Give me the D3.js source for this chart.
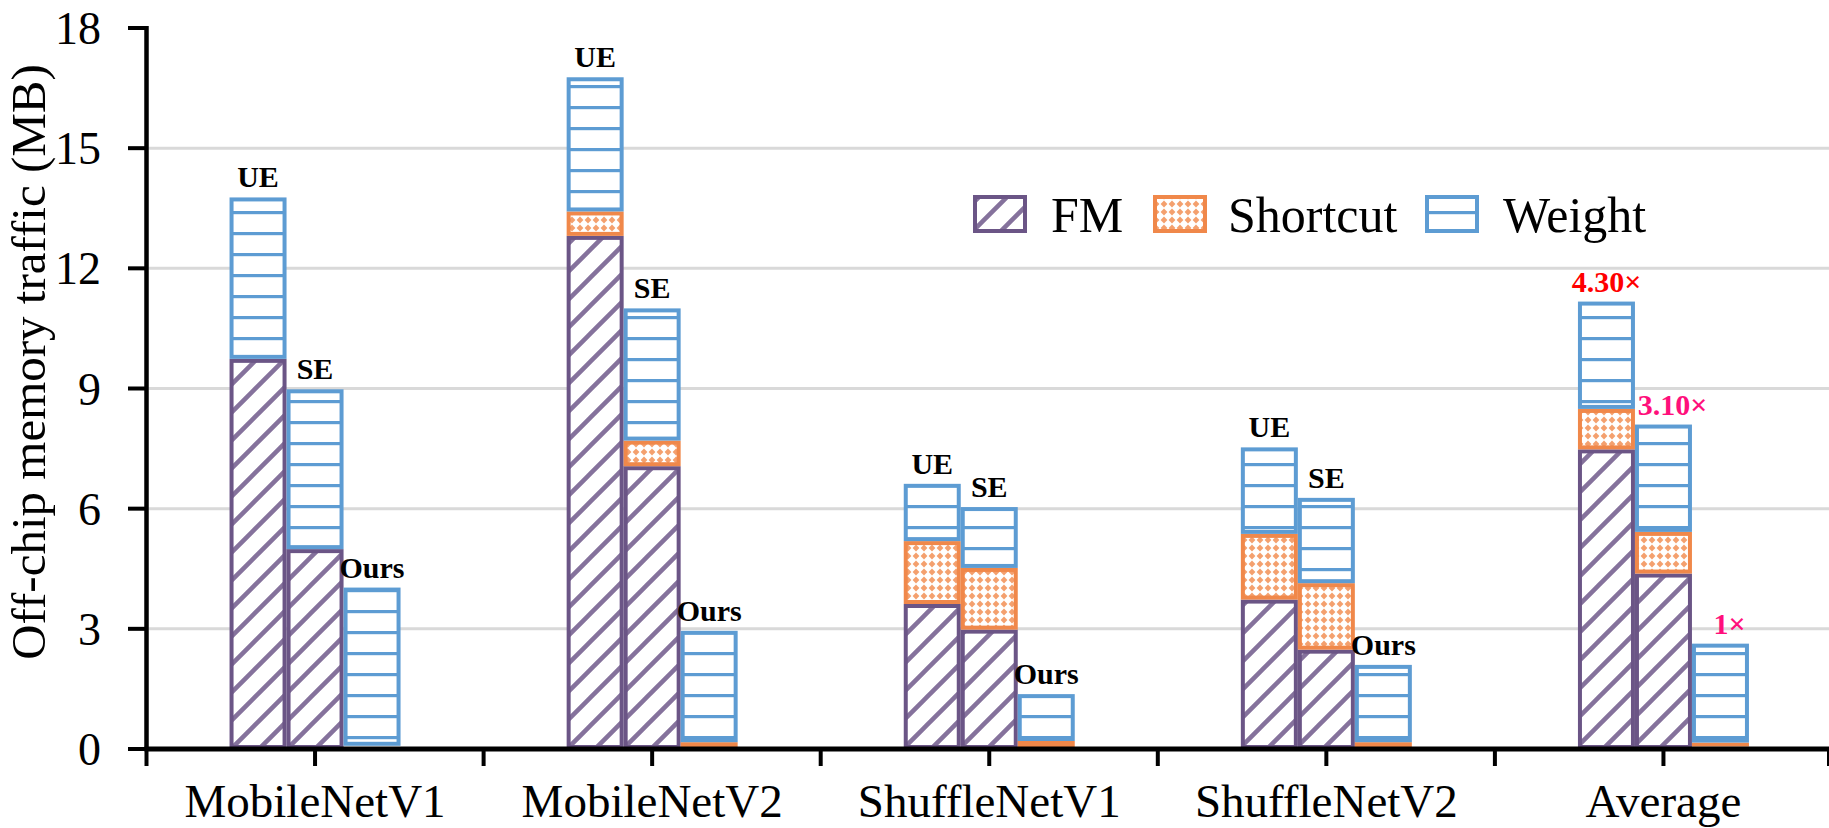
<!DOCTYPE html>
<html><head><meta charset="utf-8">
<script src="https://cdn.jsdelivr.net/npm/d3@7/dist/d3.min.js"></script>
<style>body{margin:0;background:#fff}svg{display:block}text{font-family:"Liberation Serif","Times New Roman",serif}</style>
</head><body>
<svg id="c" width="1829" height="828"></svg>
<script>
const categories = ["MobileNetV1","MobileNetV2","ShuffleNetV1","ShuffleNetV2","Average"];
const schemes = ["UE","SE","Ours"];
const seriesNames = ["FM","Shortcut","Weight"];
// values per category: [UE, SE, Ours]
const fmValues = [[9.74,4.99,0.08],[12.81,7.06,0.05],[3.62,2.98,0.05],[3.73,2.48,0.05],[7.48,4.38,0.06]];
const shortcutValues = [[0,0,0],[0.61,0.64,0.12],[1.57,1.54,0.15],[1.64,1.66,0.12],[1.01,1.04,0.10]];
const weightValues = [[4.03,3.99,3.95],[3.35,3.30,2.78],[1.43,1.52,1.17],[2.16,2.13,1.93],[2.68,2.68,2.47]];
const yTicks = [0,3,6,9,12,15,18];
const averageLabels = ["4.30×","3.10×","1×"];

const W=1829,H=828;
const svg=d3.select("#c");
const x0=146.5, xEnd=1832, yTop=28, yBot=749;
const y=d3.scaleLinear().domain([0,18]).range([yBot,yTop]);
const xCat=d3.scaleBand().domain(categories).range([x0,xEnd]).padding(0);
const barW=57;
const xSub=d3.scaleBand().domain(schemes).range([-barW*1.5,barW*1.5]).padding(0);

const colors={FM:{stroke:"#6b5586",line:"#85729c"},Shortcut:{stroke:"#f0884a",dot:"#f4a06e"},Weight:{stroke:"#5d9cd3",line:"#5d9cd3"}};

const defs=svg.append("defs");
const pf=defs.append("pattern").attr("id","pFM").attr("patternUnits","userSpaceOnUse").attr("width",28).attr("height",28);
pf.append("rect").attr("width",28).attr("height",28).attr("fill","#fff");
pf.append("path").attr("d","M-7,7 L7,-7 M0,28 L28,0 M21,35 L35,21").attr("stroke",colors.FM.line).attr("stroke-width",4.5);
const ps=defs.append("pattern").attr("id","pSC").attr("patternUnits","userSpaceOnUse").attr("width",8).attr("height",8);
ps.append("rect").attr("width",8).attr("height",8).attr("fill","#fff");
ps.append("path").attr("d","M4,0.6 L7.4,4 L4,7.4 L0.6,4 Z").attr("fill",colors.Shortcut.dot);
const pw=defs.append("pattern").attr("id","pW").attr("patternUnits","userSpaceOnUse").attr("width",20).attr("height",21).attr("y",yBot);
pw.append("rect").attr("width",20).attr("height",21).attr("fill","#fff");
pw.append("rect").attr("y",8).attr("width",20).attr("height",3.2).attr("fill",colors.Weight.line);

const fills={FM:"url(#pFM)",Shortcut:"url(#pSC)",Weight:"url(#pW)"};

svg.append("g").selectAll("line").data(yTicks.filter(t=>t>0&&t<18)).join("line")
  .attr("x1",x0).attr("x2",W).attr("y1",d=>y(d)).attr("y2",d=>y(d))
  .attr("stroke","#d9d9d9").attr("stroke-width",3);

const stacks=[];
categories.forEach((c,ci)=>{
  schemes.forEach((s,si)=>{
    const vals=[fmValues[ci][si],shortcutValues[ci][si],weightValues[ci][si]];
    let acc=0;
    vals.forEach((v,k)=>{
      stacks.push({c,s,ci,si,series:seriesNames[k],y0:acc,y1:acc+v});
      acc+=v;
    });
  });
});
svg.append("g").selectAll("rect").data(stacks.filter(d=>d.y1-d.y0>0)).join("rect")
  .attr("x",d=>xCat(d.c)+xCat.bandwidth()/2+xSub(d.s)+2)
  .attr("width",xSub.bandwidth()-4)
  .attr("y",d=>y(d.y1)+2)
  .attr("height",d=>Math.max(0,y(d.y0)-y(d.y1)-4))
  .attr("fill",d=>fills[d.series])
  .attr("stroke",d=>colors[d.series].stroke)
  .attr("stroke-width",4);

categories.forEach((c,ci)=>{
  schemes.forEach((s,si)=>{
    const tot=fmValues[ci][si]+shortcutValues[ci][si]+weightValues[ci][si];
    const cx=xCat(c)+xCat.bandwidth()/2+xSub(s)+xSub.bandwidth()/2;
    const isAvg=c==="Average";
    const lbl=isAvg?averageLabels[si]:s;
    const col=isAvg?(si===0?"#ff0000":"#ff0f7b"):"#000";
    svg.append("text").attr("x",cx+(isAvg&&si>0?9:0)).attr("y",y(tot)-10)
      .attr("text-anchor","middle").attr("font-weight","bold").attr("font-size",30)
      .attr("fill",col).text(lbl);
  });
});

const ya=svg.append("g");
ya.append("line").attr("x1",x0).attr("x2",x0).attr("y1",yTop-2).attr("y2",yBot).attr("stroke","#000").attr("stroke-width",4.5);
ya.selectAll("line.t").data(yTicks).join("line").attr("class","t")
  .attr("x1",128).attr("x2",x0).attr("y1",d=>y(d)).attr("y2",d=>y(d)).attr("stroke","#000").attr("stroke-width",4);
ya.selectAll("text").data(yTicks).join("text")
  .attr("x",101).attr("y",d=>y(d)+16).attr("text-anchor","end").attr("font-size",46).text(d=>d);

const xa=svg.append("g");
xa.append("line").attr("x1",x0-2).attr("x2",W).attr("y1",yBot).attr("y2",yBot).attr("stroke","#000").attr("stroke-width",5);
const xt=[];
categories.forEach(c=>{xt.push(xCat(c));xt.push(xCat(c)+xCat.bandwidth()/2);});
xt.push(xEnd-3);
xa.selectAll("line.t").data(xt).join("line").attr("class","t")
  .attr("x1",d=>d).attr("x2",d=>d).attr("y1",yBot).attr("y2",yBot+17).attr("stroke","#000").attr("stroke-width",4);
xa.selectAll("text").data(categories).join("text")
  .attr("x",d=>xCat(d)+xCat.bandwidth()/2).attr("y",817).attr("text-anchor","middle").attr("font-size",47).text(d=>d);

svg.append("text").attr("transform","translate(45,362) rotate(-90)").attr("text-anchor","middle")
  .attr("font-size",49).text("Off-chip memory traffic (MB)");

const legend=[{n:"FM",bx:973,tx:1051},{n:"Shortcut",bx:1153,tx:1228},{n:"Weight",bx:1425,tx:1503}];
const lg=svg.append("g");
legend.forEach(l=>{
  lg.append("rect").attr("x",l.bx+2).attr("y",197).attr("width",50).attr("height",34)
    .attr("fill",fills[l.n]).attr("stroke",colors[l.n].stroke).attr("stroke-width",4);
  lg.append("text").attr("x",l.tx).attr("y",232).attr("font-size",50).text(l.n);
});
</script>
</body></html>
